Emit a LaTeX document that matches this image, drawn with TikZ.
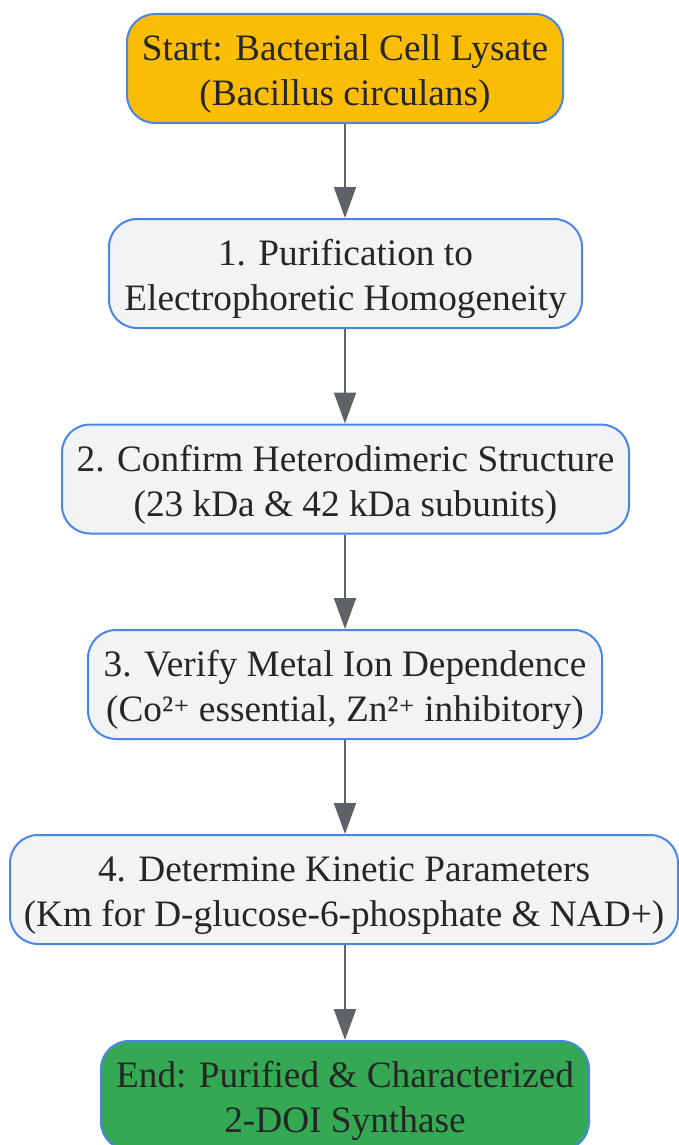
\documentclass[tikz,border=0pt]{standalone}
\usepackage{fontspec}
\setmainfont{Liberation Serif}
\newfontfamily\supfont{DejaVu Serif}
\usetikzlibrary{arrows.meta}
\definecolor{startfill}{HTML}{FBBC04}
\definecolor{stepfill}{HTML}{F1F3F4}
\definecolor{endfill}{HTML}{34A853}
\definecolor{edgeblue}{HTML}{4A86E8}
\definecolor{arrowgray}{HTML}{5F6368}
\definecolor{txt}{HTML}{262626}
\newcommand\topst{\rule{0pt}{39pt}}
\newcommand\botst{\rule[-10pt]{0pt}{10pt}}
\newcommand\supplus{{\supfont\fontsize{31}{31}\selectfont ⁺}}
\tikzset{
  box/.style={draw=edgeblue, line width=2pt, rounded corners=28pt, inner sep=0pt,
    minimum height=109pt, align=center, text=txt,
    font=\fontsize{37.3}{45}\selectfont},
  startbox/.style={box, fill=startfill},
  stepbox/.style={box, fill=stepfill},
  endbox/.style={box, fill=endfill},
  link/.style={draw=arrowgray, line width=2.2pt, -{Triangle[length=31pt,width=22pt]}}
}
\begin{document}
\begin{tikzpicture}[x=1pt,y=-1pt]
\useasboundingbox (0,0) rectangle (679,1145);
\node[startbox, minimum width=436pt] (s) at (345,68.5) {\topst Start: Bacterial Cell Lysate\\(Bacillus circulans)\botst};
\node[stepbox, minimum width=473pt] (a) at (345.5,273.5) {\topst 1. Purification to\\Electrophoretic Homogeneity\botst};
\node[stepbox, minimum width=567pt] (b) at (345.5,479) {\topst 2. Confirm Heterodimeric Structure\\(23 kDa \& 42 kDa subunits)\botst};
\node[stepbox, minimum width=514pt] (c) at (345,684.5) {\topst 3. Verify Metal Ion Dependence\\(Co²\supplus{} essential, Zn²\supplus{} inhibitory)\botst};
\node[stepbox, minimum width=668pt] (d) at (344,889.5) {\topst 4. Determine Kinetic Parameters\\(Km for D-glucose-6-phosphate \& NAD+)\botst};
\node[endbox, minimum width=488pt] (e) at (345,1095.5) {\topst End: Purified \& Characterized\\2-DOI Synthase\botst};
\draw[link] (s.south -| 345,0) -- (a.north -| 345,0);
\draw[link] (a.south -| 345,0) -- (b.north -| 345,0);
\draw[link] (b.south -| 345,0) -- (c.north -| 345,0);
\draw[link] (c.south -| 345,0) -- (d.north -| 345,0);
\draw[link] (d.south -| 345,0) -- (e.north -| 345,0);
\end{tikzpicture}
\end{document}
